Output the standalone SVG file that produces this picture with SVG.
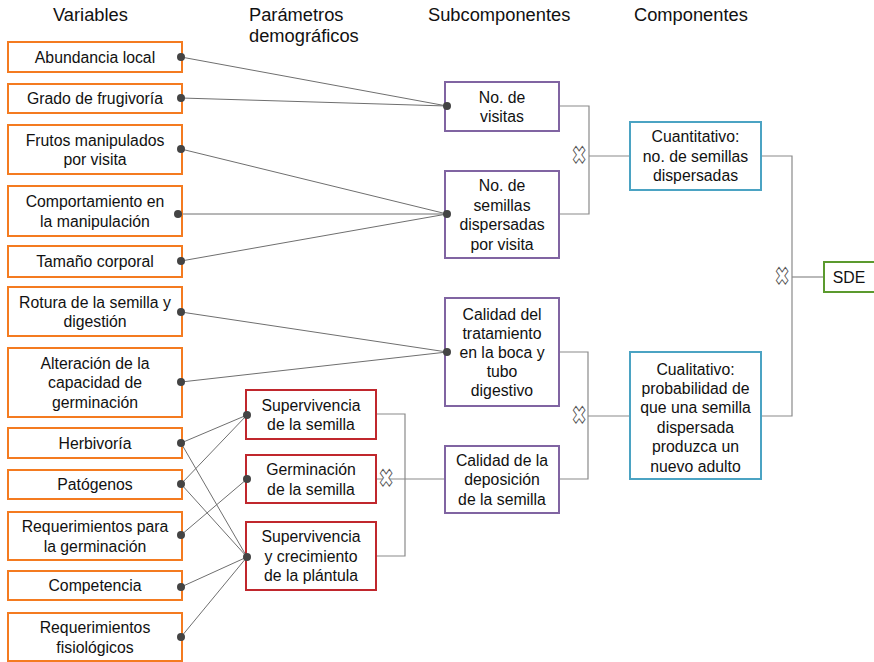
<svg xmlns="http://www.w3.org/2000/svg" width="874" height="662" viewBox="0 0 874 662">
<style>
.bg{fill:#fff}
.box{fill:#fff;stroke-width:2}
.or{stroke:#F47B20}
.rd{stroke:#C0272D}
.pu{stroke:#8064A2}
.bl{stroke:#4BA3C3}
.gr{stroke:#5B9A2E}
.t{font-family:"Liberation Sans",Arial,sans-serif;font-size:15.8px;fill:#111;text-anchor:middle}
.h{font-family:"Liberation Sans",Arial,sans-serif;font-size:18.3px;fill:#111}
.ln{stroke:#6f6f6f;stroke-width:1;fill:none}
.br{stroke:#8a8a8a;stroke-width:1.2;fill:none}
.dot{fill:#444}
.x{font-family:"DejaVu Sans",sans-serif;font-size:22px;fill:#fff;stroke:#555;stroke-width:0.9;text-anchor:middle}
</style>
<rect class="bg" x="0" y="0" width="874" height="662"/>

<g id="headers">
<text class="h" x="53" y="21">Variables</text>
<text class="h" x="249" y="21">Parámetros</text>
<text class="h" x="249" y="42">demográficos</text>
<text class="h" x="428" y="21">Subcomponentes</text>
<text class="h" x="634" y="21">Componentes</text>
</g>

<g id="connectors">
<line class="ln" x1="181" y1="57" x2="447" y2="106"/>
<line class="ln" x1="181" y1="98" x2="447" y2="106"/>
<line class="ln" x1="181" y1="149" x2="447" y2="214"/>
<line class="ln" x1="181" y1="214" x2="447" y2="214"/>
<line class="ln" x1="181" y1="261" x2="447" y2="214"/>
<line class="ln" x1="181" y1="312" x2="447" y2="352"/>
<line class="ln" x1="181" y1="382" x2="447" y2="352"/>
<line class="ln" x1="181" y1="443" x2="247" y2="415"/>
<line class="ln" x1="181" y1="443" x2="247" y2="557"/>
<line class="ln" x1="181" y1="484" x2="247" y2="415"/>
<line class="ln" x1="181" y1="484" x2="247" y2="557"/>
<line class="ln" x1="181" y1="535" x2="247" y2="479"/>
<line class="ln" x1="181" y1="587" x2="247" y2="557"/>
<line class="ln" x1="181" y1="637" x2="247" y2="557"/>
<polyline class="br" points="376,414 405,414 405,556 376,556"/>
<line class="br" x1="376" y1="479" x2="445" y2="479"/>
<polyline class="br" points="559,106 589,106 589,214 559,214"/>
<line class="br" x1="589" y1="156" x2="630" y2="156"/>
<polyline class="br" points="559,352 588,352 588,479 559,479"/>
<line class="br" x1="588" y1="416" x2="630" y2="416"/>
<polyline class="br" points="761,156 792,156 792,416 761,416"/>
<line class="br" x1="792" y1="277" x2="824" y2="277"/>
<text class="x" transform="translate(579,156) scale(0.8,1.15)" x="0" y="7">✖</text>
<text class="x" transform="translate(579,416) scale(0.8,1.15)" x="0" y="7">✖</text>
<text class="x" transform="translate(782,277) scale(0.8,1.15)" x="0" y="7">✖</text>
<text class="x" transform="translate(386,479) scale(0.8,1.15)" x="0" y="7">✖</text>
</g>

<g id="v1"><rect class="box or" x="8" y="42" width="174" height="30"/><text class="t" x="95" y="62.7">Abundancia local</text></g>
<g id="v2"><rect class="box or" x="8" y="84" width="174" height="29"/><text class="t" x="95" y="104.2">Grado de frugivoría</text></g>
<g id="v3"><rect class="box or" x="8" y="125" width="174" height="49"/><text class="t" x="95" y="145.5">Frutos manipulados</text><text class="t" x="95" y="165">por visita</text></g>
<g id="v4"><rect class="box or" x="8" y="186" width="174" height="50"/><text class="t" x="95" y="207">Comportamiento en</text><text class="t" x="95" y="226.5">la manipulación</text></g>
<g id="v5"><rect class="box or" x="8" y="246" width="174" height="31"/><text class="t" x="95" y="267.2">Tamaño corporal</text></g>
<g id="v6"><rect class="box or" x="8" y="287" width="174" height="49"/><text class="t" x="95" y="307.5">Rotura de la semilla y</text><text class="t" x="95" y="327">digestión</text></g>
<g id="v7"><rect class="box or" x="8" y="348" width="174" height="69"/><text class="t" x="95" y="368.7">Alteración de la</text><text class="t" x="95" y="388.2">capacidad de</text><text class="t" x="95" y="407.7">germinación</text></g>
<g id="v8"><rect class="box or" x="8" y="428" width="174" height="30"/><text class="t" x="95" y="448.7">Herbivoría</text></g>
<g id="v9"><rect class="box or" x="8" y="470" width="174" height="29"/><text class="t" x="95" y="490.2">Patógenos</text></g>
<g id="v10"><rect class="box or" x="8" y="512" width="174" height="48"/><text class="t" x="95" y="532">Requerimientos para</text><text class="t" x="95" y="551.5">la germinación</text></g>
<g id="v11"><rect class="box or" x="8" y="571" width="174" height="29"/><text class="t" x="95" y="591.2">Competencia</text></g>
<g id="v12"><rect class="box or" x="8" y="613" width="174" height="48"/><text class="t" x="95" y="633">Requerimientos</text><text class="t" x="95" y="652.5">fisiológicos</text></g>

<g id="p1"><rect class="box rd" x="246" y="390" width="130" height="49"/><text class="t" x="311" y="410.5">Supervivencia</text><text class="t" x="311" y="430">de la semilla</text></g>
<g id="p2"><rect class="box rd" x="246" y="455" width="130" height="48"/><text class="t" x="311" y="475">Germinación</text><text class="t" x="311" y="494.5">de la semilla</text></g>
<g id="p3"><rect class="box rd" x="246" y="522" width="130" height="68"/><text class="t" x="311" y="542.2">Supervivencia</text><text class="t" x="311" y="561.7">y crecimiento</text><text class="t" x="311" y="581.2">de la plántula</text></g>

<g id="s1"><rect class="box pu" x="445" y="82" width="114" height="49"/><text class="t" x="502" y="102.5">No. de</text><text class="t" x="502" y="122">visitas</text></g>
<g id="s2"><rect class="box pu" x="445" y="171" width="114" height="87"/><text class="t" x="502" y="191">No. de</text><text class="t" x="502" y="210.5">semillas</text><text class="t" x="502" y="230">dispersadas</text><text class="t" x="502" y="249.5">por visita</text></g>
<g id="s3"><rect class="box pu" x="445" y="298" width="114" height="108"/><text class="t" x="502" y="320.2">Calidad del</text><text class="t" x="502" y="339.2">tratamiento</text><text class="t" x="502" y="358.2">en la boca y</text><text class="t" x="502" y="377.2">tubo</text><text class="t" x="502" y="396.2">digestivo</text></g>
<g id="s4"><rect class="box pu" x="445" y="446" width="114" height="67"/><text class="t" x="502" y="465.7">Calidad de la</text><text class="t" x="502" y="485.2">deposición</text><text class="t" x="502" y="504.7">de la semilla</text></g>

<g id="c1"><rect class="box bl" x="630" y="122" width="131" height="68"/><text class="t" x="695.5" y="142.2">Cuantitativo:</text><text class="t" x="695.5" y="161.7">no. de semillas</text><text class="t" x="695.5" y="181.2">dispersadas</text></g>
<g id="c2"><rect class="box bl" x="630" y="352" width="131" height="127"/><text class="t" x="695.5" y="374.5">Cualitativo:</text><text class="t" x="695.5" y="393.9">probabilidad de</text><text class="t" x="695.5" y="413.3">que una semilla</text><text class="t" x="695.5" y="432.7">dispersada</text><text class="t" x="695.5" y="452.1">produzca un</text><text class="t" x="695.5" y="471.5">nuevo adulto</text></g>

<g id="sde"><rect class="box gr" x="824" y="262" width="52" height="30"/><text class="t" x="849" y="282.7">SDE</text></g>

<g id="dots">
<circle class="dot" cx="181" cy="57" r="4"/>
<circle class="dot" cx="181" cy="98" r="4"/>
<circle class="dot" cx="181" cy="149" r="4"/>
<circle class="dot" cx="178" cy="214" r="4"/>
<circle class="dot" cx="181" cy="261" r="4"/>
<circle class="dot" cx="181" cy="312" r="4"/>
<circle class="dot" cx="181" cy="382" r="4"/>
<circle class="dot" cx="181" cy="443" r="4"/>
<circle class="dot" cx="181" cy="484" r="4"/>
<circle class="dot" cx="181" cy="535" r="4"/>
<circle class="dot" cx="181" cy="587" r="4"/>
<circle class="dot" cx="181" cy="637" r="4"/>
<circle class="dot" cx="247" cy="415" r="4"/>
<circle class="dot" cx="247" cy="479" r="4"/>
<circle class="dot" cx="247" cy="557" r="4"/>
<circle class="dot" cx="447" cy="106" r="4"/>
<circle class="dot" cx="447" cy="214" r="4"/>
<circle class="dot" cx="447" cy="352" r="4"/>
</g>
</svg>
